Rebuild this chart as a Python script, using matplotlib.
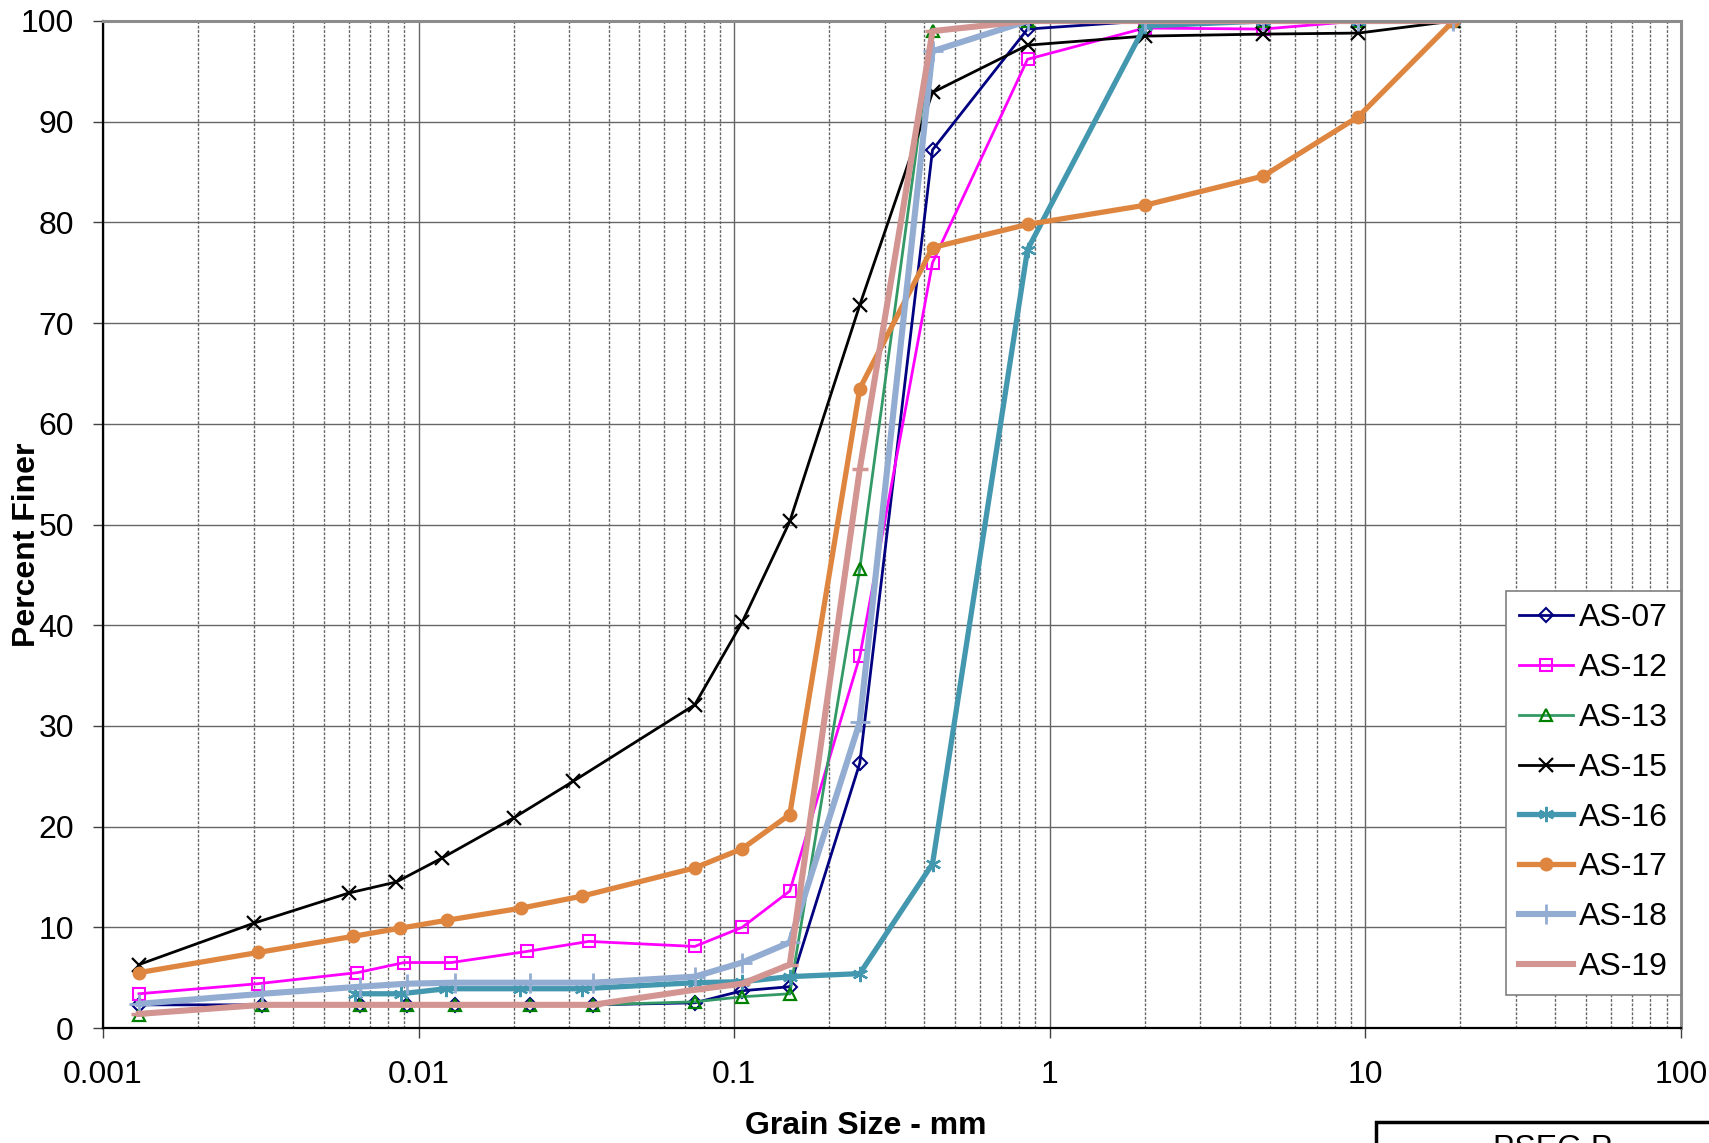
import numpy as np
import matplotlib
matplotlib.use('Agg')
import matplotlib.pyplot as plt
from matplotlib.ticker import LogLocator, FixedLocator, NullFormatter
from matplotlib.patches import Rectangle

plt.rcParams['font.family'] = ['Liberation Sans', 'DejaVu Sans']

# 筛分粒径 (mm)
sieve = [0.075, 0.106, 0.15, 0.25, 0.425, 0.85, 2.0, 4.75, 9.5, 19.0]

# 各样品比重计粒径 + 筛分粒径
size_07 = [0.0013, 0.0032, 0.0065, 0.0092, 0.0130, 0.0226, 0.0356] + sieve
pct_07 = [2.3, 2.3, 2.3, 2.3, 2.3, 2.3, 2.3, 2.5, 3.7, 4.1, 26.3, 87.2, 99.2, 100, 100, 100, 100]

size_12 = [0.0013, 0.0031, 0.0064, 0.0090, 0.0127, 0.0220, 0.0346] + sieve
pct_12 = [3.4, 4.4, 5.5, 6.5, 6.5, 7.6, 8.6, 8.1, 10.0, 13.6, 36.9, 76.0, 96.2, 99.3, 99.2, 100, 100]

size_13 = [0.0013, 0.0032, 0.0065, 0.0092, 0.0130, 0.0226, 0.0356] + sieve
pct_13 = [1.3, 2.3, 2.3, 2.3, 2.3, 2.3, 2.3, 2.6, 3.1, 3.4, 45.6, 99.0, 100, 100, 100, 100, 100]

size_15 = [0.0013, 0.0030, 0.0060, 0.0085, 0.0119, 0.0201, 0.0309] + sieve
pct_15 = [6.3, 10.4, 13.4, 14.5, 16.9, 20.9, 24.5, 32.1, 40.3, 50.3, 71.8, 92.9, 97.6, 98.5, 98.7, 98.8, 100]

size_16 = [0.0063, 0.0088, 0.0122, 0.0210, 0.0330] + sieve
pct_16 = [3.4, 3.4, 3.9, 3.9, 3.9, 4.5, 4.6, 5.1, 5.4, 16.3, 77.3, 99.5, 100, 100, 100]

size_17 = [0.0013, 0.0031, 0.0062, 0.0087, 0.0123, 0.0211, 0.0330] + sieve
pct_17 = [5.5, 7.5, 9.1, 9.9, 10.7, 11.9, 13.1, 15.9, 17.8, 21.2, 63.5, 77.5, 79.8, 81.7, 84.6, 90.5, 100]

size_18 = [0.0013, 0.0032, 0.0065, 0.0092, 0.0130, 0.0226, 0.0356] + sieve
pct_18 = [2.4, 3.4, 4.1, 4.4, 4.5, 4.5, 4.5, 5.1, 6.5, 8.5, 30.4, 97.0, 100, 100, 100, 100, 100]

size_19 = [0.0013, 0.0032, 0.0065, 0.0092, 0.0130, 0.0226, 0.0356] + sieve
pct_19 = [1.4, 2.3, 2.3, 2.3, 2.3, 2.3, 2.3, 3.8, 4.4, 6.3, 55.5, 99.0, 100, 100, 100, 100, 100]

fig = plt.figure(figsize=(17.09, 11.43), dpi=100)
ax = fig.add_axes([103 / 1709, 1 - 1028 / 1143, 1578 / 1709, 1007 / 1143])

# 绘图
ax.plot(size_07, pct_07, color='#000080', lw=2.0, marker='D', ms=7, mfc='none', mec='#000080', mew=1.5, label='AS-07')
ax.plot(size_12, pct_12, color='#FF00FF', lw=2.0, marker='s', ms=8, mfc='none', mec='#FF00FF', mew=1.5, label='AS-12')
ax.plot(size_13, pct_13, color='#339966', lw=2.0, marker='^', ms=9, mfc='none', mec='#008000', mew=1.6, label='AS-13')
ax.plot(size_15, pct_15, color='black', lw=2.0, marker='x', ms=10, mew=1.6, label='AS-15')
ax.plot(size_16, pct_16, color='#4397AE', lw=3.8, marker=(6, 2, 0), ms=11, mew=1.6, label='AS-16')
ax.plot(size_17, pct_17, color='#DE8640', lw=3.8, marker='o', ms=9, label='AS-17')
ax.plot(size_18, pct_18, color='#93ACD2', lw=4.4, marker='+', ms=15, mew=2.0, label='AS-18')
ax.plot(size_19, pct_19, color='#D39592', lw=4.4, marker='_', ms=12, mew=2.5, label='AS-19')

ax.set_xscale('log')
ax.set_xlim(0.001, 100)
ax.set_ylim(0, 100)
ax.xaxis.set_major_locator(FixedLocator([0.001, 0.01, 0.1, 1, 10, 100]))
ax.set_xticklabels(['0.001', '0.01', '0.1', '1', '10', '100'])
ax.xaxis.set_minor_locator(LogLocator(base=10, subs=np.arange(2, 10)))
ax.xaxis.set_minor_formatter(NullFormatter())
ax.set_yticks(np.arange(0, 101, 10))

ax.tick_params(axis='both', which='major', labelsize=23, direction='out', length=7, width=1, color='#404040')
ax.tick_params(axis='y', pad=14)
ax.tick_params(axis='x', pad=16)
ax.tick_params(axis='x', which='minor', length=0)

ax.grid(True, which='major', axis='both', color='#666666', lw=1.0, ls='-')
ax.grid(True, which='minor', axis='x', color='#666666', lw=1.0, ls=(0, (2, 1.2)))
ax.set_axisbelow(True)

ax.spines['left'].set_color('black')
ax.spines['left'].set_linewidth(1.6)
ax.spines['bottom'].set_color('black')
ax.spines['bottom'].set_linewidth(1.6)
ax.spines['top'].set_color('#8C8C8C')
ax.spines['top'].set_linewidth(2.2)
ax.spines['right'].set_color('#8C8C8C')
ax.spines['right'].set_linewidth(2.2)

leg = ax.legend(loc='lower right', bbox_to_anchor=(1.0, 0.033), borderaxespad=0, fontsize=23,
                handlelength=1.7, handletextpad=0.2, labelspacing=0.62, borderpad=0.4,
                fancybox=False, framealpha=1, edgecolor='#808080')
leg.get_frame().set_linewidth(1.2)

fig.text(27 / 1709, 1 - 545 / 1143, 'Percent Finer', rotation=90, fontsize=23, fontweight='bold',
         ha='center', va='center')
fig.text(866 / 1709, 1 - 1126 / 1143, 'Grain Size - mm', fontsize=23, fontweight='bold',
         ha='center', va='center')

# 右下角标题框
fig.patches.append(Rectangle((1376 / 1709, -0.05), 0.3, 0.05 + (1143 - 1122) / 1143,
                             transform=fig.transFigure, fill=False, ec='black', lw=2.5))
fig.text(1493 / 1709, 1 - 1134 / 1143, 'PSEG P', fontsize=23, ha='left', va='top')

plt.savefig('out.png', dpi=100)
